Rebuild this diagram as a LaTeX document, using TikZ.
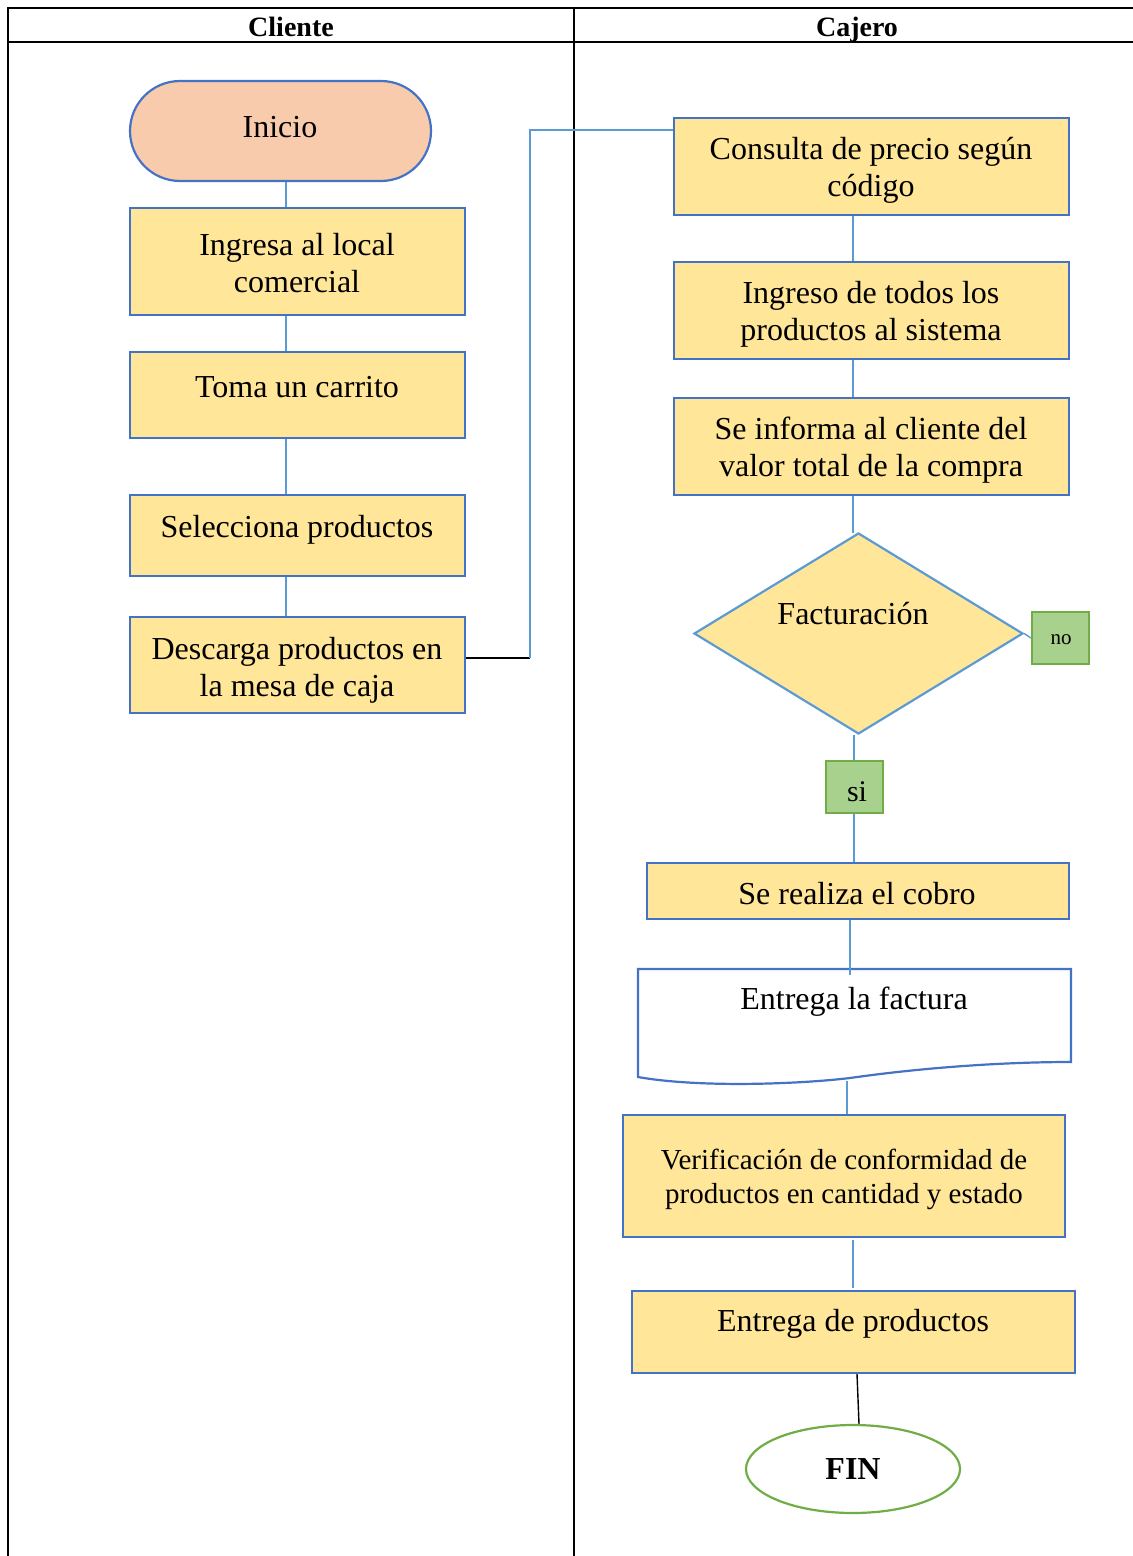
\documentclass[tikz,border=0pt]{standalone}
\usepackage{fontspec}
\setmainfont{Liberation Serif}
\usetikzlibrary{shapes.geometric}
\definecolor{boxfill}{HTML}{FFE699}
\definecolor{boxline}{HTML}{4472C4}
\definecolor{conline}{HTML}{5B9BD5}
\definecolor{startfill}{HTML}{F8CBAD}
\definecolor{okfill}{HTML}{A9D18E}
\definecolor{okline}{HTML}{70AD47}
\tikzset{
  procbox/.style={draw=boxline, fill=boxfill, line width=1.1pt, inner sep=0pt},
  txt/.style={font=\fontsize{16}{18.5}\selectfont, align=center, inner sep=0pt},
  conn/.style={draw=conline, line width=0.7pt},
  blackconn/.style={draw=black, line width=0.7pt},
  answer/.style={draw=okline, fill=okfill, line width=1.1pt, inner sep=0pt,
    minimum width=28.5pt, minimum height=26pt},
  lane/.style={draw=black, line width=1pt},
  head/.style={font=\fontsize{14}{16}\selectfont\bfseries, inner sep=0pt, anchor=base}
}
\begin{document}
\begin{tikzpicture}[x=0.5pt, y=-0.5pt]
\useasboundingbox (0,0) rectangle (1133,1556);

% swimlane table
\draw[lane] (8,1556) -- (8,8) -- (1133,8);
\draw[lane] (8,42) -- (1133,42);
\draw[lane] (574,8) -- (574,1556);
\node[head] (hcliente) at (291,37) {Cliente};
\node[head] (hcajero) at (857,37) {Cajero};

% Cliente lane
\node[procbox, fill=startfill, rounded corners=25pt, minimum width=150.5pt, minimum height=50pt] (inicio) at (280.5,131) {};
\node[txt] (tinicio) at (280,127) {Inicio};
\node[procbox, minimum width=167.5pt, minimum height=53.5pt] (ingresa) at (297.5,261.5) {};
\node[txt] (tingresa) at (297,263) {Ingresa al local\\comercial};
\node[procbox, minimum width=167.5pt, minimum height=43pt] (toma) at (297.5,395) {};
\node[txt] (ttoma) at (297,387) {Toma un carrito};
\node[procbox, minimum width=167.5pt, minimum height=40.5pt] (selecciona) at (297.5,535.5) {};
\node[txt] (tselecciona) at (297,530) {Selecciona productos};
\node[procbox, minimum width=167.5pt, minimum height=48pt] (descarga) at (297.5,665) {};
\node[txt] (tdescarga) at (297,670) {Descarga productos en\\la mesa de caja};

% Cajero lane
\node[procbox, minimum width=197.5pt, minimum height=48.5pt] (consulta) at (871.5,166.5) {};
\node[txt] (tconsulta) at (871,170) {Consulta de precio según\\código};
\node[procbox, minimum width=197.5pt, minimum height=48.5pt] (ingreso) at (871.5,310.5) {};
\node[txt] (tingreso) at (871,314) {Ingreso de todos los\\productos al sistema};
\node[procbox, minimum width=197.5pt, minimum height=48.5pt] (informa) at (871.5,446.5) {};
\node[txt] (tinforma) at (871,450) {Se informa al cliente del\\valor total de la compra};
\node[diamond, draw=conline, fill=boxfill, line width=1.1pt, inner sep=0pt, minimum width=164.5pt, minimum height=100.5pt] (factur) at (858.5,633.5) {};
\node[txt] (tfactur) at (853,614) {Facturación};
\node[answer] (no) at (1060.5,638) {};
\node[txt, font=\fontsize{10.5}{12}\selectfont] (tno) at (1061,640) {no};
\node[answer] (si) at (854.5,787) {};
\node[txt, font=\fontsize{15}{17}\selectfont] (tsi) at (857,792) {si};
\node[procbox, minimum width=211pt, minimum height=28pt] (cobro) at (858,891) {};
\node[txt] (tcobro) at (857,894) {Se realiza el cobro};

% document shape
\coordinate (factbot) at (847,1081);
\draw[draw=boxline, fill=white, line width=1.1pt]
  (638,969) -- (1071,969) -- (1071,1062)
  .. controls (1000,1062) and (920,1068) .. (850,1078)
  .. controls (800,1084) and (700,1088) .. (638,1077) -- cycle;
\node[txt] (tfactura) at (854,1002) {Entrega la factura};

\node[procbox, minimum width=221pt, minimum height=61pt] (verif) at (844,1176) {};
\node[txt, font=\fontsize{14.5}{17}\selectfont] (tverif) at (844,1179) {Verificación de conformidad de\\productos en cantidad y estado};
\node[procbox, minimum width=221.5pt, minimum height=41pt] (entrega) at (853.5,1332) {};
\node[txt] (tentrega) at (853,1324) {Entrega de productos};
\node[ellipse, draw=okline, fill=white, line width=1.1pt, inner sep=0pt, minimum width=107pt, minimum height=44pt] (fin) at (853,1469) {};
\node[txt, font=\fontsize{16}{18}\selectfont\bfseries] (tfin) at (853,1469) {FIN};

% connectors, Cliente lane
\draw[conn] (286,0 |- inicio.south) -- (286,0 |- ingresa.north);
\draw[conn] (286,0 |- ingresa.south) -- (286,0 |- toma.north);
\draw[conn] (286,0 |- toma.south) -- (286,0 |- selecciona.north);
\draw[conn] (286,0 |- selecciona.south) -- (286,0 |- descarga.north);

% hand-over to the cashier
\coordinate (bend) at (530,658);
\draw[blackconn] (descarga.east |- bend) -- (bend);
\draw[conn] (bend) -- (530,130) -- (consulta.west |- 0,130);

% connectors, Cajero lane
\draw[conn] (853,0 |- consulta.south) -- (853,0 |- ingreso.north);
\draw[conn] (853,0 |- ingreso.south) -- (853,0 |- informa.north);
\draw[conn] (853,0 |- informa.south) -- (853,533);
\draw[conn] (factur.east) -- (no.west);
\draw[conn] (854,0 |- factur.south) -- (854,0 |- si.north);
\draw[conn] (854,0 |- si.south) -- (854,0 |- cobro.north);
\draw[conn] (850,0 |- cobro.south) -- (850,975);
\draw[conn] (factbot) -- (847,0 |- verif.north);
\draw[conn] (853,0 |- 0,1240) -- (853,0 |- 0,1288);
\draw[blackconn] (857,0 |- entrega.south) -- (859,0 |- fin.north);
\end{tikzpicture}
\end{document}
